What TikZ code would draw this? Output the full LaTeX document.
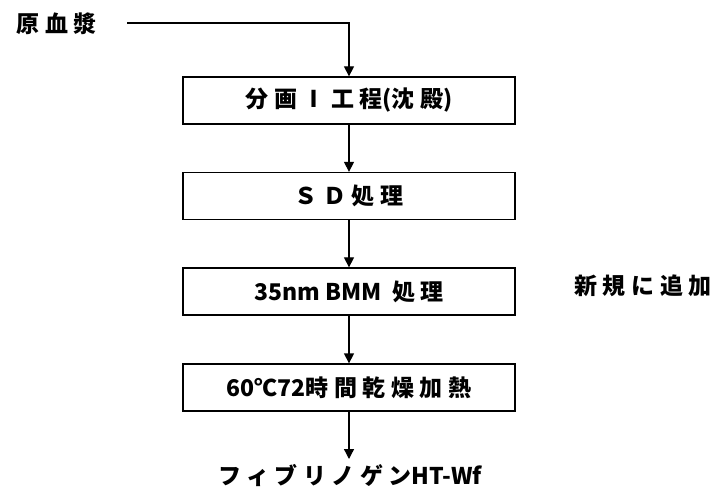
\documentclass[tikz,border=0pt]{standalone}
\usepackage{fontspec}
\newfontfamily\jpsp[LetterSpace=24]{Noto Sans CJK JP}
\newfontfamily\jplat{Noto Sans CJK JP}
\usetikzlibrary{arrows.meta}
\newcommand\jtxt{\jpsp\bfseries\fontsize{23}{27}\selectfont}
\begin{document}
\begin{tikzpicture}[x=1pt,y=-1pt,
  stepbox/.style={draw,line width=1.3pt,minimum width=332pt,minimum height=47pt,inner sep=0pt,font=\jtxt},
  lab/.style={inner sep=0pt,font=\jtxt},
  flow/.style={line width=1.3pt,-{Triangle[width=10pt,length=10pt]}}]
\useasboundingbox (0,0) rectangle (720,494);
\node[lab] (src) at (57,24) {原血漿};
\coordinate (s0) at (127,23);
\node[stepbox] (b1) at (349,100.5) {分画Ⅰ工程{\jplat (}沈殿{\jplat )}};
\node[stepbox] (b2) at (349,196) {ＳＤ処理};
\node[stepbox] (b3) at (349,291.5) {{\jplat 35nm BMM} 処理};
\node[stepbox] (b4) at (349,387.5) {{\jplat 60}℃{\jplat 72}時間乾燥加熱};
\node[lab] (out) at (350,476) {フィブリノゲン{\jplat HT-Wf}};
\node[lab] (note) at (643,286) {新規に追加};
\coordinate (endp) at (349,459);
\draw[flow] (s0) -| (b1.north);
\draw[flow] (b1) -- (b2);
\draw[flow] (b2) -- (b3);
\draw[flow] (b3) -- (b4);
\draw[flow] (b4) -- (endp);
\end{tikzpicture}
\end{document}
